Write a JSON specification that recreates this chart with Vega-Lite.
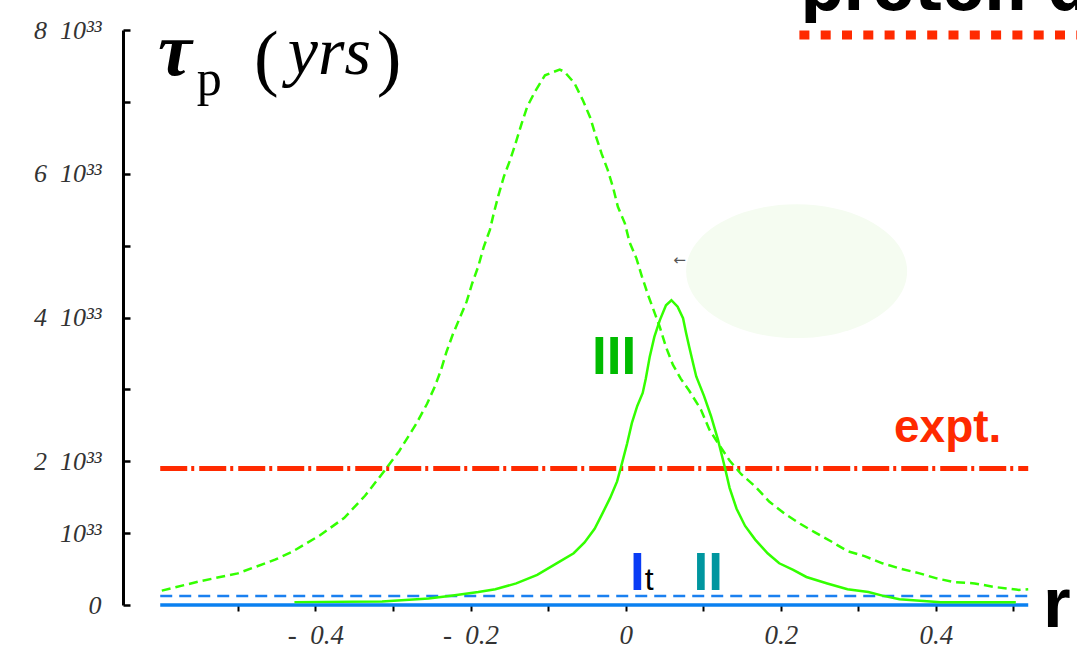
{
  "$schema": "https://vega.github.io/schema/vega-lite/v6.json",
  "width": 906,
  "height": 575,
  "autosize": {"type": "none"},
  "padding": {"left": 123, "top": 30, "right": 48, "bottom": 49},
  "background": "white",
  "config": {"view": {"stroke": null}, "axis": {"grid": false}},
  "data": {"values": [{"note": "annotation"}]},
  "datasets": {
    "broad": [
      {"r": -0.598, "tau": 0.2}, {"r": -0.549, "tau": 0.33}, {"r": -0.5, "tau": 0.44}, {"r": -0.452, "tau": 0.63},
      {"r": -0.43, "tau": 0.74}, {"r": -0.394, "tau": 0.97}, {"r": -0.363, "tau": 1.21}, {"r": -0.336, "tau": 1.52},
      {"r": -0.31, "tau": 1.88}, {"r": -0.292, "tau": 2.14}, {"r": -0.27, "tau": 2.52}, {"r": -0.256, "tau": 2.8},
      {"r": -0.246, "tau": 3.04}, {"r": -0.238, "tau": 3.27}, {"r": -0.231, "tau": 3.52}, {"r": -0.223, "tau": 3.76},
      {"r": -0.214, "tau": 3.99}, {"r": -0.205, "tau": 4.22}, {"r": -0.198, "tau": 4.47}, {"r": -0.19, "tau": 4.71},
      {"r": -0.183, "tau": 4.98}, {"r": -0.175, "tau": 5.22}, {"r": -0.17, "tau": 5.45}, {"r": -0.164, "tau": 5.7},
      {"r": -0.157, "tau": 5.96}, {"r": -0.149, "tau": 6.19}, {"r": -0.142, "tau": 6.42}, {"r": -0.134, "tau": 6.7},
      {"r": -0.127, "tau": 6.93}, {"r": -0.117, "tau": 7.14}, {"r": -0.104, "tau": 7.37}, {"r": -0.085, "tau": 7.45},
      {"r": -0.079, "tau": 7.42}, {"r": -0.066, "tau": 7.26}, {"r": -0.055, "tau": 7.02}, {"r": -0.046, "tau": 6.79},
      {"r": -0.038, "tau": 6.51}, {"r": -0.031, "tau": 6.28}, {"r": -0.023, "tau": 6.05}, {"r": -0.016, "tau": 5.8},
      {"r": -0.01, "tau": 5.54}, {"r": -0.001, "tau": 5.31}, {"r": 0.005, "tau": 5.05}, {"r": 0.014, "tau": 4.82},
      {"r": 0.021, "tau": 4.57}, {"r": 0.029, "tau": 4.31}, {"r": 0.044, "tau": 3.87}, {"r": 0.052, "tau": 3.59},
      {"r": 0.061, "tau": 3.34}, {"r": 0.071, "tau": 3.15}, {"r": 0.082, "tau": 2.98}, {"r": 0.097, "tau": 2.72},
      {"r": 0.108, "tau": 2.44}, {"r": 0.121, "tau": 2.22}, {"r": 0.134, "tau": 2.01}, {"r": 0.149, "tau": 1.82},
      {"r": 0.167, "tau": 1.65}, {"r": 0.185, "tau": 1.44}, {"r": 0.205, "tau": 1.27}, {"r": 0.225, "tau": 1.13},
      {"r": 0.244, "tau": 1.01}, {"r": 0.264, "tau": 0.89}, {"r": 0.286, "tau": 0.75}, {"r": 0.308, "tau": 0.68},
      {"r": 0.331, "tau": 0.58}, {"r": 0.353, "tau": 0.51}, {"r": 0.379, "tau": 0.44}, {"r": 0.401, "tau": 0.37},
      {"r": 0.423, "tau": 0.32}, {"r": 0.45, "tau": 0.3}, {"r": 0.476, "tau": 0.25}, {"r": 0.507, "tau": 0.21},
      {"r": 0.519, "tau": 0.22}
    ],
    "narrow": [
      {"r": -0.427, "tau": 0.04}, {"r": -0.314, "tau": 0.05}, {"r": -0.254, "tau": 0.09}, {"r": -0.225, "tau": 0.13},
      {"r": -0.19, "tau": 0.18}, {"r": -0.168, "tau": 0.22}, {"r": -0.141, "tau": 0.3}, {"r": -0.114, "tau": 0.42},
      {"r": -0.089, "tau": 0.58}, {"r": -0.067, "tau": 0.72}, {"r": -0.053, "tau": 0.87}, {"r": -0.04, "tau": 1.06},
      {"r": -0.031, "tau": 1.25}, {"r": -0.02, "tau": 1.49}, {"r": -0.011, "tau": 1.72}, {"r": -0.005, "tau": 1.96},
      {"r": 0.002, "tau": 2.25}, {"r": 0.008, "tau": 2.53}, {"r": 0.015, "tau": 2.77}, {"r": 0.022, "tau": 2.95},
      {"r": 0.026, "tau": 3.15}, {"r": 0.031, "tau": 3.45}, {"r": 0.037, "tau": 3.73}, {"r": 0.044, "tau": 3.96},
      {"r": 0.052, "tau": 4.17}, {"r": 0.059, "tau": 4.24}, {"r": 0.067, "tau": 4.15}, {"r": 0.074, "tau": 3.99},
      {"r": 0.078, "tau": 3.78}, {"r": 0.082, "tau": 3.59}, {"r": 0.087, "tau": 3.36}, {"r": 0.091, "tau": 3.18},
      {"r": 0.101, "tau": 2.91}, {"r": 0.11, "tau": 2.63}, {"r": 0.119, "tau": 2.3}, {"r": 0.128, "tau": 1.91},
      {"r": 0.134, "tau": 1.63}, {"r": 0.143, "tau": 1.34}, {"r": 0.154, "tau": 1.1}, {"r": 0.167, "tau": 0.91},
      {"r": 0.183, "tau": 0.72}, {"r": 0.198, "tau": 0.58}, {"r": 0.216, "tau": 0.49}, {"r": 0.233, "tau": 0.39},
      {"r": 0.26, "tau": 0.3}, {"r": 0.286, "tau": 0.22}, {"r": 0.313, "tau": 0.18}, {"r": 0.331, "tau": 0.13},
      {"r": 0.353, "tau": 0.08}, {"r": 0.406, "tau": 0.04}, {"r": 0.503, "tau": 0.04}
    ]
  },
  "layer": [
    {
      "mark": {"type": "point", "shape": "M -1 0 A 1 0.606 0 1 0 1 0 A 1 0.606 0 1 0 -1 0 Z", "filled": true, "fill": "#f5fcf1", "stroke": null, "opacity": 1, "size": 48841},
      "encoding": {"x": {"datum": 0.2204}, "y": {"datum": 4.645}}
    },
    {
      "mark": {"type": "rule", "color": "#ff2a00", "strokeWidth": 5, "strokeDash": [27, 4, 3, 5]},
      "encoding": {"x": {"datum": -0.6}, "x2": {"datum": 0.519}, "y": {"datum": 1.9}}
    },
    {
      "mark": {"type": "rule", "color": "#1a80f0", "strokeWidth": 2.5, "strokeDash": [12, 7]},
      "encoding": {"x": {"datum": -0.6}, "x2": {"datum": 0.519}, "y": {"datum": 0.125}}
    },
    {
      "mark": {"type": "rule", "color": "#0a80f0", "strokeWidth": 3.5},
      "encoding": {"x": {"datum": -0.6}, "x2": {"datum": 0.519}, "y": {"datum": 0}}
    },
    {
      "mark": {"type": "rule", "color": "#ff2a00", "strokeWidth": 9, "strokeDash": [10, 11.3]},
      "encoding": {"x": {"datum": 0.224}, "x2": {"datum": 0.62}, "y": {"datum": 7.93}}
    },
    {
      "data": {"name": "broad"},
      "mark": {"type": "line", "color": "#33ff00", "strokeWidth": 2.5, "strokeDash": [9, 5]},
      "encoding": {
        "x": {"field": "r", "type": "quantitative", "scale": {"domain": [-0.648, 0.52], "nice": false, "zero": false},
          "axis": {"title": null, "values": [-0.5, -0.4, -0.3, -0.2, -0.1, 0, 0.1, 0.2, 0.3, 0.4, 0.5],
            "labelExpr": "round(datum.value*10) % 2 != 0 ? '' : (datum.value < -0.01 ? '-\u00a0\u00a0' + format(-datum.value, '.1f') : (abs(datum.value) < 0.01 ? '0' : format(datum.value, '.1f')))",
            "domain": false, "ticks": true, "tickSize": 6, "tickWidth": 2, "tickColor": "black",
            "labelPadding": 11, "labelFont": "Liberation Serif", "labelFontStyle": "italic", "labelFontSize": 27,
            "labelColor": "#333", "labelFlush": false, "labelOverlap": false, "grid": false}},
        "y": {"field": "tau", "type": "quantitative", "scale": {"domain": [0, 8], "nice": false, "zero": false},
          "axis": {"title": null, "values": [0, 1, 2, 3, 4, 5, 6, 7, 8],
            "labelExpr": "datum.value == 0 ? '0' : (datum.value == 1 ? '10³³' : (datum.value % 2 == 0 ? datum.value + '\u00a0\u00a010³³' : ''))",
            "domain": true, "domainColor": "black", "domainWidth": 3, "ticks": true, "tickSize": -7, "tickWidth": 2.5, "tickColor": "black",
            "labelPadding": 29, "labelFont": "Liberation Serif", "labelFontStyle": "italic", "labelFontSize": 26,
            "labelColor": "#333", "labelAlign": "right", "labelBaseline": "middle", "labelFlush": false, "labelOverlap": false, "grid": false}}
      }
    },
    {
      "data": {"name": "narrow"},
      "mark": {"type": "line", "color": "#33ff00", "strokeWidth": 2.5},
      "encoding": {
        "x": {"field": "r", "type": "quantitative", "scale": {"domain": [-0.648, 0.52], "nice": false, "zero": false}},
        "y": {"field": "tau", "type": "quantitative", "scale": {"domain": [0, 8], "nice": false, "zero": false}}
      }
    },
    {
      "mark": {"type": "text", "text": "III", "font": "Liberation Sans", "fontWeight": "bold", "fontSize": 53, "color": "#00bb00", "align": "left", "baseline": "alphabetic"},
      "encoding": {"x": {"datum": -0.0434}, "y": {"datum": 3.21}}
    },
    {
      "mark": {"type": "text", "text": "I", "font": "Liberation Sans", "fontWeight": "bold", "fontSize": 53, "color": "#0a3cf5", "align": "left", "baseline": "alphabetic"},
      "encoding": {"x": {"datum": 0.0055}, "y": {"datum": 0.209}}
    },
    {
      "mark": {"type": "text", "text": "t", "font": "Liberation Sans", "fontSize": 32, "color": "black", "align": "left", "baseline": "alphabetic"},
      "encoding": {"x": {"datum": 0.0245}, "y": {"datum": 0.209}}
    },
    {
      "mark": {"type": "text", "text": "II", "font": "Liberation Sans", "fontWeight": "bold", "fontSize": 53, "color": "#00969f", "align": "left", "baseline": "alphabetic"},
      "encoding": {"x": {"datum": 0.0874}, "y": {"datum": 0.209}}
    },
    {
      "mark": {"type": "text", "text": "expt.", "font": "Liberation Sans", "fontWeight": "bold", "fontSize": 46, "color": "#ff2a00", "align": "left", "baseline": "alphabetic"},
      "encoding": {"x": {"datum": 0.346}, "y": {"datum": 2.27}}
    },
    {
      "mark": {"type": "text", "text": "r", "font": "Liberation Sans", "fontWeight": "bold", "fontSize": 71, "color": "black", "align": "left", "baseline": "alphabetic"},
      "encoding": {"x": {"datum": 0.538}, "y": {"datum": -0.306}}
    },
    {
      "mark": {"type": "text", "text": "proton decay", "font": "DejaVu Sans", "fontWeight": "bold", "fontSize": 60, "color": "black", "align": "left", "baseline": "alphabetic"},
      "encoding": {"x": {"datum": 0.2255}, "y": {"datum": 8.275}}
    },
    {
      "mark": {"type": "text", "text": "←", "font": "DejaVu Sans", "fontSize": 15, "color": "#555", "align": "center", "baseline": "middle"},
      "encoding": {"x": {"datum": 0.0696}, "y": {"datum": 4.8}}
    },
    {
      "mark": {"type": "text", "text": "τ", "font": "Liberation Serif", "fontWeight": "bold", "fontStyle": "italic", "fontSize": 76, "color": "black", "align": "left", "baseline": "alphabetic"},
      "encoding": {"x": {"datum": -0.603}, "y": {"datum": 7.37}}
    },
    {
      "mark": {"type": "text", "text": "p", "font": "Liberation Serif", "fontSize": 50, "color": "black", "align": "left", "baseline": "alphabetic"},
      "encoding": {"x": {"datum": -0.553}, "y": {"datum": 7.09}}
    },
    {
      "mark": {"type": "text", "text": "(", "font": "Liberation Serif", "fontSize": 74, "color": "black", "align": "left", "baseline": "alphabetic"},
      "encoding": {"x": {"datum": -0.479}, "y": {"datum": 7.27}}
    },
    {
      "mark": {"type": "text", "text": "yrs", "font": "Liberation Serif", "fontStyle": "italic", "fontSize": 68, "color": "black", "align": "center", "baseline": "alphabetic"},
      "encoding": {"x": {"datum": -0.382}, "y": {"datum": 7.385}}
    },
    {
      "mark": {"type": "text", "text": ")", "font": "Liberation Serif", "fontSize": 74, "color": "black", "align": "left", "baseline": "alphabetic"},
      "encoding": {"x": {"datum": -0.321}, "y": {"datum": 7.27}}
    }
  ]
}
